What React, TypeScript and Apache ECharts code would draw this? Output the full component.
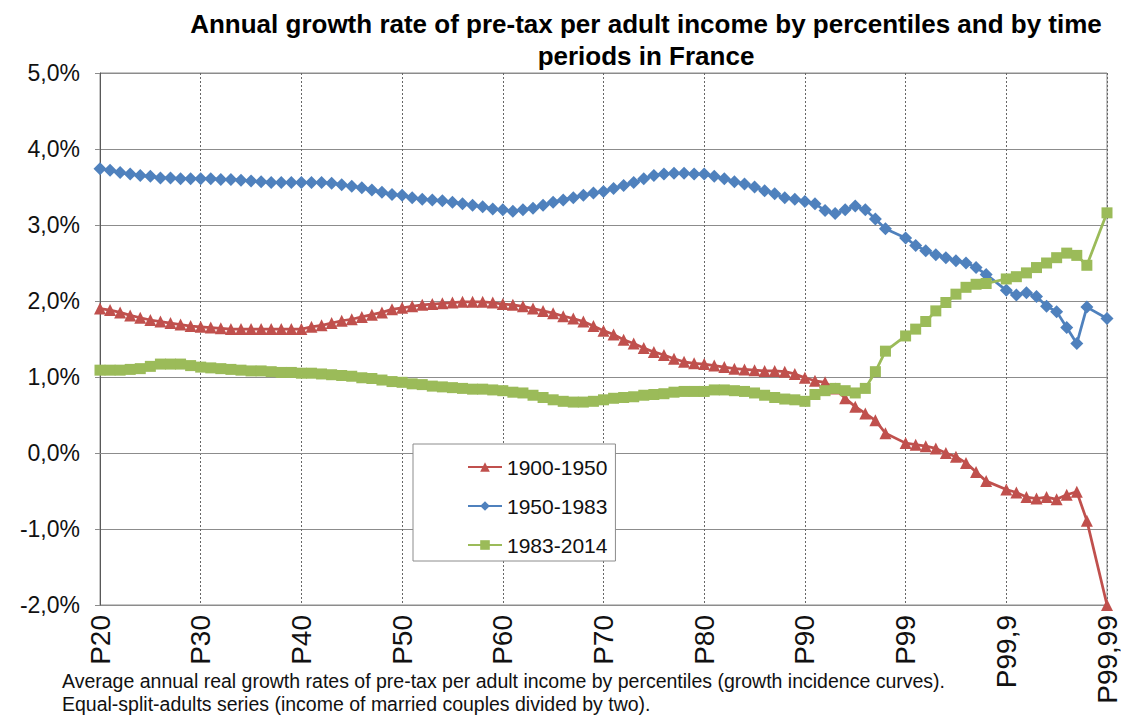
import React, { useEffect, useRef } from "react";
import * as echarts from "echarts";

const categories = [
  "P20", "P21", "P22", "P23", "P24", "P25", "P26", "P27", "P28", "P29",
  "P30", "P31", "P32", "P33", "P34", "P35", "P36", "P37", "P38", "P39",
  "P40", "P41", "P42", "P43", "P44", "P45", "P46", "P47", "P48", "P49",
  "P50", "P51", "P52", "P53", "P54", "P55", "P56", "P57", "P58", "P59",
  "P60", "P61", "P62", "P63", "P64", "P65", "P66", "P67", "P68", "P69",
  "P70", "P71", "P72", "P73", "P74", "P75", "P76", "P77", "P78", "P79",
  "P80", "P81", "P82", "P83", "P84", "P85", "P86", "P87", "P88", "P89",
  "P90", "P91", "P92", "P93", "P94", "P95", "P96", "P97", "P98", "P99-",
  "P99", "P99,1", "P99,2", "P99,3", "P99,4", "P99,5", "P99,6", "P99,7", "P99,8", "P99,9-",
  "P99,9", "P99,91", "P99,92", "P99,93", "P99,94", "P99,95", "P99,96", "P99,97", "P99,98", "P99,99-",
  "P99,99",
];

const seriesNames = ["1900-1950", "1950-1983", "1983-2014"];

const growth1900_1950 = [
  1.90, 1.88, 1.85, 1.81, 1.78, 1.75, 1.73, 1.71, 1.69, 1.67,
  1.66, 1.65, 1.64, 1.63, 1.63, 1.63, 1.63, 1.63, 1.63, 1.63,
  1.63, 1.66, 1.68, 1.71, 1.74, 1.76, 1.79, 1.82, 1.85, 1.89,
  1.91, 1.93, 1.95, 1.96, 1.97, 1.98, 1.99, 1.99, 1.99, 1.98,
  1.96, 1.95, 1.93, 1.90, 1.87, 1.84, 1.80, 1.77, 1.73, 1.67,
  1.61, 1.56, 1.49, 1.44, 1.38, 1.33, 1.29, 1.24, 1.20, 1.18,
  1.17, 1.15, 1.13, 1.11, 1.10, 1.09, 1.08, 1.08, 1.07, 1.04,
  0.99, 0.95, 0.93, 0.85, 0.72, 0.61, 0.52, 0.43, 0.26, null,
  0.13, 0.11, 0.09, 0.06, 0.00, -0.05, -0.13, -0.25, -0.37, null,
  -0.48, -0.52, -0.58, -0.60, -0.58, -0.61, -0.55, -0.51, -0.89, null,
  -2.00,
];

const growth1950_1983 = [
  3.74, 3.72, 3.69, 3.67, 3.65, 3.64, 3.62, 3.62, 3.61, 3.61,
  3.61, 3.61, 3.60, 3.60, 3.59, 3.58, 3.57, 3.56, 3.56, 3.56,
  3.56, 3.56, 3.56, 3.55, 3.53, 3.51, 3.49, 3.46, 3.43, 3.40,
  3.39, 3.36, 3.34, 3.33, 3.32, 3.30, 3.28, 3.26, 3.24, 3.21,
  3.20, 3.18, 3.20, 3.22, 3.26, 3.30, 3.33, 3.36, 3.39, 3.42,
  3.44, 3.48, 3.52, 3.56, 3.61, 3.65, 3.67, 3.68, 3.68, 3.67,
  3.67, 3.64, 3.61, 3.57, 3.54, 3.50, 3.45, 3.41, 3.36, 3.34,
  3.31, 3.28, 3.19, 3.15, 3.20, 3.25, 3.20, 3.08, 2.95, null,
  2.83, 2.73, 2.66, 2.61, 2.57, 2.53, 2.50, 2.44, 2.35, null,
  2.14, 2.08, 2.11, 2.06, 1.93, 1.86, 1.65, 1.44, 1.92, null,
  1.77,
];

const growth1983_2014 = [
  1.09, 1.09, 1.09, 1.10, 1.11, 1.14, 1.17, 1.17, 1.17, 1.15,
  1.13, 1.12, 1.11, 1.10, 1.09, 1.08, 1.08, 1.07, 1.06, 1.06,
  1.05, 1.05, 1.04, 1.03, 1.02, 1.01, 0.99, 0.98, 0.96, 0.94,
  0.93, 0.91, 0.90, 0.88, 0.87, 0.86, 0.85, 0.84, 0.84, 0.83,
  0.82, 0.80, 0.79, 0.76, 0.73, 0.70, 0.68, 0.67, 0.67, 0.68,
  0.70, 0.72, 0.73, 0.74, 0.76, 0.77, 0.78, 0.80, 0.81, 0.81,
  0.81, 0.83, 0.83, 0.82, 0.81, 0.79, 0.76, 0.73, 0.71, 0.70,
  0.68, 0.77, 0.82, 0.85, 0.82, 0.79, 0.85, 1.07, 1.34, null,
  1.54, 1.63, 1.73, 1.87, 1.98, 2.09, 2.18, 2.22, 2.23, null,
  2.29, 2.32, 2.37, 2.44, 2.50, 2.57, 2.63, 2.60, 2.47, null,
  3.16,
];

const titleText =
  "Annual growth rate of pre-tax per adult income by percentiles and by time\nperiods in France";
const footnoteLines = [
  "Average annual real growth rates of pre-tax per adult income by percentiles (growth incidence curves).",
  "Equal-split-adults series (income of married couples divided by two).",
];

const FONT = "'Liberation Sans', Arial, sans-serif";
const RED = "#C0504D";
const BLUE = "#4F81BD";
const GREEN = "#9BBB59";

function makeSeries(name: string, data: (number | null)[], color: string, symbol: string, size: number) {
  return {
    name,
    type: "line",
    data,
    connectNulls: true,
    clip: false,
    symbol,
    symbolSize: size,
    showAllSymbol: true,
    lineStyle: { width: 2.75, color },
    itemStyle: { color },
  };
}

export default function App() {
  const ref = useRef<HTMLDivElement>(null);
  useEffect(() => {
    document.body.style.margin = "0";
    const chart = echarts.init(ref.current!, null, { renderer: "svg" });
    chart.setOption({
      animation: false,
      backgroundColor: "#ffffff",
      title: {
        text: titleText,
        left: 641,
        top: 3,
        textAlign: "center",
        textStyle: {
          fontFamily: FONT,
          fontSize: 26,
          fontWeight: "bold",
          color: "#000",
          lineHeight: 32,
        },
      },
      grid: {
        left: 100,
        right: 12,
        top: 73,
        bottom: 110,
        show: true,
        borderColor: "#8c8c8c",
        borderWidth: 1,
      },
      legend: {
        data: seriesNames,
        orient: "vertical",
        left: 413,
        top: 444,
        padding: [12, 8, 5, 54],
        itemWidth: 34,
        itemHeight: 12,
        itemGap: 17,
        borderColor: "#8c8c8c",
        borderWidth: 1,
        backgroundColor: "#ffffff",
        selectedMode: false,
        textStyle: { fontFamily: FONT, fontSize: 21, lineHeight: 22, color: "#111" },
      },
      xAxis: {
        type: "category",
        data: categories,
        boundaryGap: false,
        axisLine: { show: true, lineStyle: { color: "#8c8c8c", width: 1 } },
        axisTick: { show: false },
        axisLabel: {
          interval: 9,
          rotate: 90,
          margin: 10,
          fontFamily: FONT,
          fontSize: 28,
          color: "#111",
        },
        splitLine: {
          show: true,
          interval: 9,
          lineStyle: { color: "#666", width: 1, type: [2, 2] },
        },
      },
      yAxis: {
        type: "value",
        min: -2,
        max: 5,
        interval: 1,
        axisLine: { show: true, lineStyle: { color: "#595959", width: 1 } },
        axisTick: { show: true, length: 5, lineStyle: { color: "#8c8c8c" } },
        axisLabel: {
          margin: 20,
          fontFamily: FONT,
          fontSize: 23,
          color: "#111",
          formatter: (v: number) => v.toFixed(1).replace(".", ",") + "%",
        },
        splitLine: { show: true, lineStyle: { color: "#8c8c8c", width: 1 } },
      },
      series: [
        makeSeries(seriesNames[0], growth1900_1950, RED, "triangle", 12),
        makeSeries(seriesNames[1], growth1950_1983, BLUE, "diamond", 13),
        makeSeries(seriesNames[2], growth1983_2014, GREEN, "rect", 11),
      ],
      graphic: footnoteLines.map((t, i) => ({
        type: "text",
        left: 62,
        top: 671 + i * 23,
        style: { text: t, fontFamily: FONT, fontSize: 19.5, fill: "#111" },
      })),
    });
    return () => chart.dispose();
  }, []);
  return <div ref={ref} style={{ width: 1121, height: 715 }} />;
}
